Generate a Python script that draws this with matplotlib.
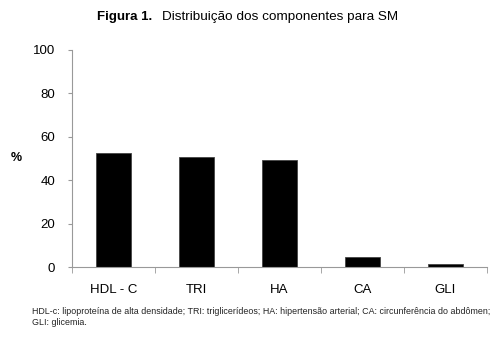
import matplotlib.pyplot as plt
import numpy as np

plt.rcParams['font.family'] = ['Liberation Sans', 'DejaVu Sans']

categorias = ["HDL - C", "TRI", "HA", "CA", "GLI"]
percentuais = [52.4, 50.8, 49.3, 4.7, 1.5]
yticks = [0, 20, 40, 60, 80, 100]

fig = plt.figure(figsize=(4.99, 3.49), dpi=100)
ax = fig.add_axes([72 / 499, 1 - 267 / 349, 415 / 499, 217 / 349])

x = np.arange(len(categorias))
ax.bar(x, percentuais, width=0.41, color="black", edgecolor="#444444", linewidth=0.6)

ax.set_xlim(-0.5, len(categorias) - 0.5)
ax.set_ylim(0, 100)
ax.set_yticks(yticks)
ax.set_xticks(x)
ax.set_xticklabels(categorias, fontsize=9.5)
ax.tick_params(axis="y", labelsize=9.5, length=3, color="#999999", pad=9)
ax.tick_params(axis="x", length=0, pad=12)
# separadores entre categorias
ax.set_xticks(np.arange(-0.5, len(categorias)), minor=True)
ax.tick_params(axis="x", which="minor", length=4, color="#999999")

for s in ["top", "right"]:
    ax.spines[s].set_visible(False)
for s in ["left", "bottom"]:
    ax.spines[s].set_color("#999999")
    ax.spines[s].set_linewidth(0.8)

fig.text(16 / 499, 1 - 158 / 349, "%", fontsize=9, fontweight="bold", ha="center", va="center")

fig.text(97 / 499, 1 - 17 / 349, "Figura 1.", fontsize=9.5, fontweight="bold", ha="left", va="center")
fig.text(162 / 499, 1 - 17 / 349, "Distribuição dos componentes para SM", fontsize=9.7, ha="left", va="center")

fig.text(32 / 499, 1 - 317 / 349,
         "HDL-c: lipoproteína de alta densidade; TRI: triglicerídeos; HA: hipertensão arterial; CA: circunferência do abdômen;\nGLI: glicemia.",
         fontsize=6.4, ha="left", va="center", linespacing=1.2, color="#222222")

fig.savefig("out.png", dpi=100)
